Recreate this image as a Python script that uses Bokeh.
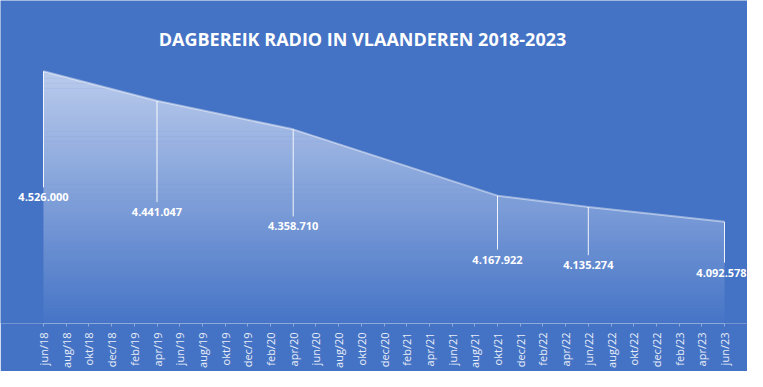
import numpy as np
from bokeh.plotting import figure
from bokeh.models import Range1d, Label, FixedTicker, ColumnDataSource, LabelSet
from bokeh.embed import file_html
from bokeh.resources import INLINE
from bokeh.core.properties import value

# ---- data ----
month_names = ["jan", "feb", "mrt", "apr", "mei", "jun", "jul", "aug", "sep", "okt", "nov", "dec"]
point_dates = ["jun/18", "apr/19", "apr/20", "okt/21", "jun/22", "jun/23"]
reach = [4526000, 4441047, 4358710, 4167922, 4135274, 4092578]
tick_labels = ["jun/18", "aug/18", "okt/18", "dec/18", "feb/19", "apr/19", "jun/19", "aug/19",
               "okt/19", "dec/19", "feb/20", "apr/20", "jun/20", "aug/20", "okt/20", "dec/20",
               "feb/21", "apr/21", "jun/21", "aug/21", "okt/21", "dec/21", "feb/22", "apr/22",
               "jun/22", "aug/22", "okt/22", "dec/22", "feb/23", "apr/23", "jun/23"]
title_text = "DAGBEREIK RADIO IN VLAANDEREN 2018-2023"
y_min, y_max = 3800000, 4600000


def month_index(lbl):
    m, y = lbl.split("/")
    return (int(y) - 18) * 12 + month_names.index(m) - 5


xs = [month_index(d) for d in point_dates]
tick_pos = [month_index(t) for t in tick_labels]

# ---- layout (pixels) ----
BG = "#4472c4"
W, H = 747, 371
AX_BOTTOM = 48          # space for the x axis below the frame
PX_LEFT, PX_RIGHT = 43, 724   # pixel x of first / last month
PX_YMAX = 45            # pixel y of y_max
frame_h = H - AX_BOTTOM
ppm = (PX_RIGHT - PX_LEFT) / (tick_pos[-1] - tick_pos[0])   # px per month
upp = (y_max - y_min) / (frame_h - PX_YMAX)                  # data units per px
x_start = tick_pos[0] - PX_LEFT / ppm
x_end = tick_pos[-1] + (W - PX_RIGHT) / ppm
y_end = y_min + frame_h * upp

p = figure(width=W, height=H, output_backend="svg", toolbar_location=None,
           x_range=Range1d(x_start, x_end), y_range=Range1d(y_min, y_end),
           min_border_left=0, min_border_right=0, min_border_top=0, min_border_bottom=AX_BOTTOM,
           background_fill_color=BG, border_fill_color=BG, outline_line_color=None)
p.grid.visible = False
p.yaxis.visible = False

# gradient fill simulated with horizontal bands, then masked above the curve
top_rgb = np.array([186, 203, 236])
bot_rgb = np.array([70, 116, 198])
n = 100
edges = np.linspace(y_min, max(reach), n + 1)
cols = []
for k in range(n):
    t = (k + 0.5) / n
    c = bot_rgb + (top_rgb - bot_rgb) * t
    cols.append("#%02x%02x%02x" % tuple(int(round(v)) for v in c))
p.quad(left=tick_pos[0], right=tick_pos[-1], bottom=edges[:-1], top=edges[1:] + 0.6 * upp,
       fill_color=cols, line_color=None)
pad = 2 / ppm
mask_x = [xs[0] - pad] + xs + [xs[-1] + pad]
mask_y = [reach[0]] + reach + [reach[-1]]
p.varea(x=mask_x, y1=mask_y, y2=[max(reach) + 3 * upp] * len(mask_x), fill_color=BG)

# top edge highlight
p.line(xs, reach, line_color="white", line_alpha=0.45, line_width=2)

# labels at middle of the area height
lab_y = [(v + y_min) / 2 for v in reach]
lab_txt = [f"{v:,}".replace(",", ".") for v in reach]
lab_dx = [0, 0, 0, 0, 0, -3]
p.segment(x0=xs, y0=reach, x1=xs, y1=[ly + 10 * upp for ly in lab_y],
          line_color="white", line_width=1, line_alpha=0.9)
src = ColumnDataSource(dict(x=xs, y=lab_y, t=lab_txt, dx=lab_dx))
p.add_layout(LabelSet(x="x", y="y", text="t", source=src, x_offset="dx", text_align="center",
                      text_baseline="middle", text_color="white", text_font=value("Open Sans"),
                      text_font_size="11px", text_font_style="bold"))

# x axis
ax = p.xaxis[0]
ax.bounds = (tick_pos[0], tick_pos[-1])
ax.ticker = FixedTicker(ticks=tick_pos)
ax.major_label_overrides = {tp: tl for tp, tl in zip(tick_pos, tick_labels)}
ax.major_label_orientation = np.pi / 2
ax.major_label_text_color = "#e8eef8"
ax.major_label_text_font = "Open Sans"
ax.major_label_text_font_size = "11px"
ax.major_label_standoff = 6
ax.axis_line_color = "#8eaadb"
ax.major_tick_line_color = "#8eaadb"
ax.major_tick_in = 0
ax.major_tick_out = 3
ax.minor_tick_line_color = None

# title
p.add_layout(Label(x=x_start + 362 / ppm, y=y_end - 38.5 * upp, text=title_text,
                   text_align="center", text_baseline="middle", text_color="white",
                   text_font="Open Sans", text_font_size="18px", text_font_style="bold"))

open("out.html", "w").write(file_html(p, INLINE))
